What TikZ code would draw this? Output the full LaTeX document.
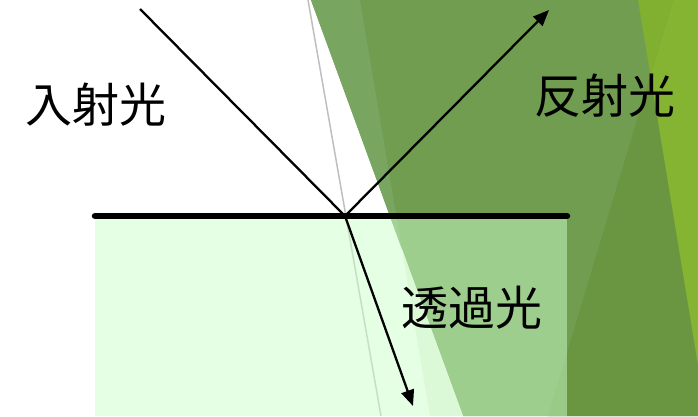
\documentclass[tikz,border=0pt]{standalone}
\usepackage{fontspec}
\newfontfamily\cjk{Noto Sans CJK JP}
\usetikzlibrary{arrows.meta}
\definecolor{maingreen}{HTML}{709D50}
\definecolor{stripgreen}{HTML}{78A661}
\definecolor{faintstrip}{HTML}{EEF3E3}
\definecolor{darkgreen}{HTML}{6A9641}
\definecolor{brightgreen}{HTML}{84B432}
\definecolor{brightgreenb}{HTML}{81B030}
\definecolor{facetgray}{HTML}{BFBFBF}
\definecolor{palegreen}{HTML}{CCFFCC}
\tikzset{
  ray/.style={line width=2.3pt, black},
  rayarrow/.style={ray, -{Triangle[length=16pt,width=13pt]}},
  surface/.style={line width=6.5pt, black, line cap=round},
  lbl/.style={font=\cjk\fontsize{47}{50}\selectfont, inner sep=0pt, text=black},
}
\begin{document}
\begin{tikzpicture}[x=1pt,y=-1pt]
\useasboundingbox (0,0) rectangle (698,416);
\fill[white] (0,0) rectangle (698,416);
% facet background shapes
\fill[maingreen] (311,0) -- (698,0) -- (698,416) -- (463,416) -- cycle;
\fill[stripgreen] (311,0) -- (360,0) -- (401.8,248.6) -- cycle;
\fill[faintstrip] (401.8,248.6) -- (463,416) -- (430,416) -- cycle;
\fill[darkgreen] (673,0) -- (698,0) -- (698,416) -- (548,416) -- cycle;
\fill[brightgreen] (650.4,75.3) -- (673,0) -- (698,0) -- (698,365) -- cycle;
\fill[brightgreenb] (638,0) -- (673,0) -- (650.4,75.3) -- cycle;
\draw[facetgray, line width=1.5pt] (308,0) -- (381,416);
% medium
\coordinate (BL) at (95,216);
\coordinate (BR) at (567,216);
\coordinate (BB) at (567,416);
\fill[palegreen, fill opacity=0.5] (BL) rectangle (BB);
% rays
\coordinate (A) at (140,9);
\coordinate (O) at (345,216);
\coordinate (R) at (549,10);
\coordinate (T) at (413,406);
\draw[ray] (A) -- (O);
\draw[rayarrow] (O) -- (R);
\draw[rayarrow] (O) -- (T);
\draw[surface] (BL) -- (BR);
% labels
\node[lbl] (inc) at (95.5,104.5) {入射光};
\node[lbl] (refl) at (604.5,96) {反射光};
\node[lbl] (trans) at (472,307.5) {透過光};
\end{tikzpicture}
\end{document}
